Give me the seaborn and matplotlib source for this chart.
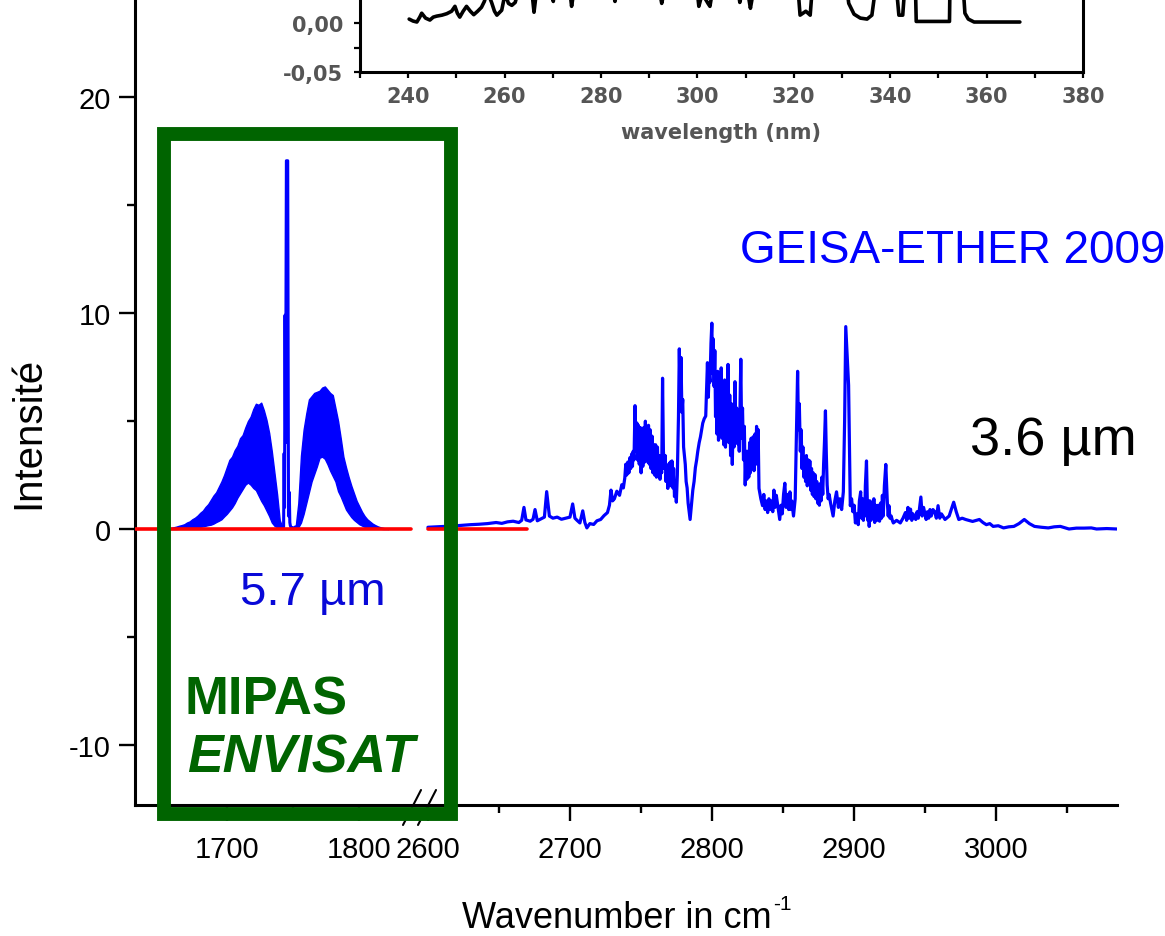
import matplotlib
matplotlib.use("Agg")
import matplotlib.pyplot as plt
from matplotlib.patches import Rectangle
from matplotlib.lines import Line2D
from matplotlib.ticker import FixedFormatter, FixedLocator
import seaborn as sns

# ---------------- 5.7 um band (MIPAS window) ----------------
# dense rotational structure of the two wings, given as lower / upper envelopes
lobe_p_wn = [1656, 1658, 1660, 1662, 1664, 1666, 1668, 1670, 1672, 1674,
             1676, 1678, 1680, 1682, 1684, 1686, 1688, 1690, 1692, 1694,
             1696, 1698, 1700, 1702, 1704, 1706, 1708, 1710, 1712, 1714,
             1716, 1718, 1720, 1722, 1724, 1726, 1728, 1730, 1732, 1734,
             1736, 1738, 1740, 1742]
lobe_p_hi = [0.03, 0.05, 0.08, 0.11, 0.15, 0.18, 0.22, 0.30, 0.35, 0.45,
             0.52, 0.62, 0.75, 0.85, 1.02, 1.15, 1.35, 1.55, 1.70, 1.95,
             2.20, 2.50, 2.85, 3.20, 3.35, 3.65, 3.85, 4.20, 4.35, 4.70,
             5.00, 5.20, 5.55, 5.80, 5.75, 5.85, 5.50, 5.05, 4.45, 3.60,
             2.60, 1.60, 0.40, 0.10]
lobe_p_lo = [0.00, 0.00, 0.00, 0.00, 0.01, 0.01, 0.02, 0.03, 0.04, 0.05,
             0.06, 0.08, 0.10, 0.12, 0.15, 0.18, 0.20, 0.25, 0.32, 0.38,
             0.45, 0.58, 0.70, 0.85, 1.00, 1.20, 1.45, 1.65, 1.85, 2.05,
             2.15, 2.05, 1.90, 1.80, 1.55, 1.30, 1.10, 0.85, 0.60, 0.30,
             0.15, 0.08, 0.04, 0.02]

lobe_r_wn = [1752, 1754, 1756, 1758, 1760, 1762, 1764, 1766, 1768, 1770,
             1772, 1774, 1776, 1778, 1780, 1782, 1784, 1786, 1788, 1790,
             1792, 1794, 1796, 1798, 1800, 1802, 1804, 1806, 1808, 1810,
             1812, 1814, 1816, 1818, 1820, 1822]
lobe_r_hi = [0.10, 1.20, 3.40, 4.60, 5.35, 6.00, 6.15, 6.30, 6.35, 6.40,
             6.55, 6.60, 6.45, 6.30, 6.20, 5.60, 5.00, 4.20, 3.35, 2.85,
             2.40, 2.00, 1.65, 1.30, 1.05, 0.80, 0.60, 0.45, 0.35, 0.25,
             0.18, 0.12, 0.08, 0.05, 0.02, 0.00]
lobe_r_lo = [0.02, 0.08, 0.30, 0.70, 1.20, 1.70, 2.20, 2.55, 2.90, 3.30,
             3.35, 3.25, 3.00, 2.70, 2.45, 2.20, 1.75, 1.50, 1.20, 0.90,
             0.72, 0.55, 0.42, 0.32, 0.22, 0.16, 0.10, 0.07, 0.05, 0.04,
             0.03, 0.02, 0.01, 0.00, 0.00, 0.00]

# Q-branch spike between the two wings
q_wn = [1742.0, 1742.9, 1743.3, 1743.6, 1744.0, 1744.4, 1745.0, 1746.0,
        1746.6, 1747.2, 1747.6, 1748.0, 1748.4, 1749.0, 1750.5, 1752.0]
q_int = [0.05, 0.10, 3.50, 1.00, 9.90, 4.00, 17.05, 17.05,
         0.60, 1.70, 0.30, 0.15, 0.10, 0.05, 0.05, 0.10]

# ---------------- 3.6 um band ----------------
band_wn = [
    2600, 2606, 2612, 2618, 2624, 2630, 2636, 2642, 2648, 2652,
    2656, 2660, 2664, 2666, 2667.6, 2669, 2672, 2674, 2675.4, 2677,
    2680, 2682, 2683.6, 2685.5, 2688, 2691, 2694, 2697, 2700, 2701.9,
    2703.5, 2705, 2707.0, 2709.0, 2710.5, 2711.9, 2714, 2716.7, 2719, 2721.6,
    2724, 2726.4, 2727.8, 2728.9, 2730, 2731.3, 2733, 2734.9, 2736.5, 2737.6,
    2738.6, 2739.3, 2740.0, 2740.7, 2741.5, 2742.2, 2742.8, 2743.4, 2744.0, 2744.5,
    2745.1, 2745.8, 2746.4, 2747.1, 2747.6, 2748.2, 2748.8, 2749.5, 2750.1, 2750.7,
    2751.3, 2752.0, 2752.6, 2753.1, 2753.7, 2754.2, 2754.8, 2755.3, 2755.9, 2756.5,
    2757.1, 2757.8, 2758.4, 2759.0, 2759.6, 2760.3, 2760.9, 2761.6, 2762.2, 2762.8,
    2763.4, 2764.0, 2764.6, 2765.2, 2765.8, 2766.5, 2767.1, 2767.6, 2768.3, 2768.9,
    2769.5, 2770.0, 2770.6, 2771.2, 2771.8, 2772.5, 2773.0, 2773.6, 2774.2, 2774.9,
    2775.6, 2776.4, 2777.0, 2777.6, 2778.2, 2778.8, 2779.4, 2780.0, 2780.6, 2781.2,
    2781.8, 2782.5, 2783.2, 2783.9, 2784.6, 2785.5, 2786.5, 2787.4, 2788.3, 2789.2,
    2790.0, 2791.0, 2791.9, 2792.7, 2793.5, 2794.5, 2795.6, 2796.2, 2796.8, 2797.4,
    2798.0, 2798.6, 2799.3, 2799.9, 2800.4, 2800.9, 2801.5, 2802.0, 2802.5, 2803.0,
    2803.5, 2804.0, 2804.6, 2805.2, 2805.8, 2806.5, 2807.1, 2807.7, 2808.3, 2808.9,
    2809.5, 2810.2, 2810.7, 2811.3, 2811.9, 2812.5, 2813.1, 2813.7, 2814.3, 2815.0,
    2815.6, 2816.2, 2816.8, 2817.4, 2818.0, 2818.6, 2819.2, 2819.8, 2820.3, 2820.9,
    2821.5, 2822.2, 2822.8, 2823.4, 2824.0, 2824.6, 2825.3, 2825.9, 2826.5, 2827.0,
    2827.6, 2828.3, 2829.0, 2829.6, 2830.3, 2830.9, 2831.4, 2831.9, 2832.5, 2833.1,
    2834.4, 2835.6, 2836.5, 2837.4, 2838.3, 2839.2, 2840.1, 2841.0, 2842.0, 2842.8,
    2843.6, 2844.4, 2845.3, 2846.5, 2847.7, 2848.6, 2849.5, 2850.4, 2851.3, 2852.2,
    2853.0, 2854.0, 2854.9, 2855.6, 2856.2, 2857.4, 2858.6, 2859.5, 2860.3, 2860.9,
    2861.5, 2862.2, 2862.8, 2863.4, 2864.0, 2864.7, 2865.3, 2865.9, 2866.5, 2867.1,
    2867.7, 2868.3, 2868.9, 2869.5, 2870.1, 2870.7, 2871.3, 2871.9, 2872.5, 2873.1,
    2873.8, 2874.4, 2875.0, 2875.6, 2876.2, 2876.8, 2877.4, 2878.0, 2878.6, 2879.2,
    2879.9, 2880.5, 2881.1, 2881.8, 2882.5, 2883.5, 2884.4, 2885.3, 2886.5, 2887.7,
    2889.0, 2890.1, 2891.3, 2892.5, 2893.4, 2894.2, 2895.2, 2896.2, 2897.4, 2898.3,
    2899.2, 2900.1, 2901.0, 2902.0, 2903.0, 2903.8, 2904.7, 2905.4, 2906.0, 2906.6,
    2907.1, 2907.6, 2908.0, 2908.8, 2909.4, 2909.8, 2910.3, 2910.7, 2911.4, 2912.0,
    2912.5, 2913.2, 2914.0, 2914.6, 2915.3, 2916.2, 2917.0, 2918.0, 2918.7, 2919.4,
    2920.0, 2920.6, 2921.4, 2922.4, 2923.5, 2924.1, 2924.6, 2925.3, 2926.2, 2927.0,
    2927.7, 2930.0, 2932.6, 2934.5, 2936.2, 2937.1, 2938.0, 2939.0, 2939.8, 2940.7,
    2941.6, 2943.5, 2944.4, 2945.3, 2946.2, 2947.1, 2948.0, 2949.0, 2950.8, 2951.7,
    2952.6, 2953.5, 2954.4, 2955.6, 2956.8, 2958.0, 2959.2, 2960.4, 2961.6, 2964.1,
    2967.0, 2970.2, 2972.0, 2973.8, 2976.2, 2978.6, 2983.5, 2988.3, 2990.8, 2993.2,
    2995.6, 2998.0, 3001.6, 3005.3, 3009.0, 3012.6, 3016.2, 3019.9, 3023.5, 3027.1,
    3032.0, 3036.8, 3041.0, 3045.3, 3048.4, 3051.4, 3056.6, 3062.0, 3067.1, 3070.8,
    3078.0, 3085.0]
band_int = [
    0.08, 0.10, 0.12, 0.14, 0.17, 0.20, 0.22, 0.25, 0.30, 0.26,
    0.33, 0.36, 0.30, 0.40, 1.00, 0.42, 0.36, 0.45, 0.90, 0.38,
    0.48, 0.55, 1.73, 0.60, 0.50, 0.55, 0.45, 0.50, 0.55, 1.16,
    0.50, 0.40, 0.28, 0.84, 0.30, 0.05, 0.25, 0.21, 0.38, 0.44,
    0.62, 0.76, 1.10, 1.80, 1.30, 1.40, 1.75, 1.56, 2.05, 1.90,
    2.36, 3.00, 2.50, 3.10, 2.60, 3.30, 2.80, 3.47, 2.90, 3.60,
    3.20, 5.71, 3.60, 4.91, 3.20, 4.80, 3.00, 4.70, 2.60, 4.60,
    2.90, 4.70, 3.10, 4.99, 3.20, 4.60, 3.10, 4.80, 3.00, 4.59,
    2.80, 4.30, 2.60, 3.90, 2.50, 3.90, 2.40, 3.79, 2.50, 3.40,
    2.30, 2.84, 2.60, 6.98, 3.60, 2.80, 3.40, 2.20, 2.90, 1.88,
    3.00, 2.10, 3.10, 2.00, 3.15, 1.90, 2.80, 1.50, 2.20, 1.24,
    2.50, 5.20, 8.34, 6.00, 7.94, 5.40, 6.00, 3.80, 3.40, 2.99,
    2.20, 1.90, 1.20, 0.80, 0.44, 1.10, 1.80, 2.20, 2.84, 3.20,
    3.60, 4.00, 4.27, 4.60, 4.90, 5.10, 5.23, 6.50, 7.70, 6.10,
    7.20, 6.80, 8.60, 9.53, 7.20, 8.80, 6.60, 8.26, 5.20, 7.10,
    4.40, 7.30, 4.11, 7.00, 4.80, 7.46, 4.20, 6.60, 3.90, 6.90,
    3.79, 6.40, 4.50, 7.62, 4.00, 6.20, 3.40, 5.80, 2.99, 5.40,
    3.80, 6.82, 4.00, 5.60, 3.95, 5.20, 3.60, 6.00, 7.86, 4.20,
    5.60, 3.20, 4.75, 2.04, 3.60, 2.30, 3.60, 2.40, 4.00, 2.60,
    4.20, 2.80, 4.27, 2.70, 4.40, 3.00, 4.75, 3.20, 4.60, 1.88,
    1.40, 1.08, 1.60, 0.90, 1.30, 0.76, 1.40, 0.90, 1.30, 0.80,
    1.80, 1.00, 1.56, 1.00, 0.44, 1.10, 0.70, 1.60, 2.12, 1.00,
    1.60, 0.90, 1.72, 0.90, 1.30, 0.60, 1.40, 4.50, 7.30, 4.60,
    5.80, 3.60, 4.59, 2.80, 3.80, 2.40, 3.15, 2.20, 3.40, 2.00,
    3.20, 2.10, 3.15, 1.80, 2.80, 1.60, 2.60, 1.50, 2.52, 1.40,
    2.20, 1.20, 1.88, 1.10, 2.10, 1.30, 2.40, 1.60, 2.99, 4.00,
    5.47, 3.50, 2.04, 1.40, 1.60, 1.20, 0.90, 0.60, 1.30, 1.72,
    1.00, 1.40, 0.90, 1.72, 5.00, 9.37, 8.00, 6.66, 1.08, 1.40,
    0.80, 1.10, 0.28, 0.70, 0.20, 1.30, 1.72, 0.50, 1.40, 0.40,
    1.24, 0.60, 2.00, 3.15, 1.20, 0.40, 1.30, 0.12, 1.30, 0.40,
    1.20, 0.50, 1.40, 0.30, 1.10, 0.40, 1.10, 0.36, 1.20, 0.50,
    1.56, 0.60, 2.00, 2.99, 1.20, 0.60, 1.08, 0.50, 0.60, 0.40,
    0.28, 0.40, 0.28, 0.50, 0.76, 0.40, 1.00, 0.50, 0.92, 0.40,
    0.70, 0.44, 0.80, 0.50, 1.00, 1.48, 0.60, 1.00, 0.44, 0.80,
    0.50, 0.90, 0.60, 0.90, 0.80, 0.50, 1.08, 0.50, 0.70, 0.44,
    0.60, 1.24, 0.80, 0.44, 0.50, 0.44, 0.35, 0.44, 0.30, 0.20,
    0.25, 0.12, 0.15, 0.05, 0.10, 0.12, 0.25, 0.44, 0.25, 0.12,
    0.08, 0.05, 0.10, 0.12, 0.06, 0.00, 0.04, 0.04, 0.05, 0.00,
    0.02, 0.00]

# zero reference line, one piece in each axis segment
zero_seg1_wn = [1630.8, 1839.0]
zero_seg2_wn = [2600.0, 2670.0]
zero_level = [0.0, 0.0]

# ---------------- UV absorption inset ----------------
uv_nm = [240.2, 241.0, 241.8, 242.4, 242.8, 243.6, 244.5, 245.2, 245.9, 247.0,
         248.0, 249.0, 249.7, 250.2, 250.7, 251.4, 252.1, 252.9, 253.6, 254.4,
         255.2, 255.8, 256.3, 256.9, 257.3, 257.9, 258.4, 259.0, 259.4, 260.1,
         260.8, 261.5, 262.2, 262.8, 264.0, 265.5, 266.1, 266.8, 268.5, 269.6,
         270.1, 270.6, 272.5, 273.6, 273.9, 274.3, 277.0, 281.0, 282.5, 282.9,
         283.4, 287.0, 291.5, 292.3, 292.6, 293.0, 296.5, 299.8, 300.3, 301.0,
         302.2, 302.6, 303.2, 306.5, 308.4, 308.8, 309.3, 310.5, 311.0, 311.6,
         315.0, 320.8, 321.3, 322.5, 323.4, 323.9, 327.5, 331.0, 331.4, 332.5,
         333.8, 335.2, 336.2, 336.8, 339.5, 341.4, 341.8, 342.6, 343.0, 345.2,
         345.4, 352.3, 352.4, 354.0, 355.1, 355.5, 356.2, 357.4, 366.9]
uv_abs = [0.0040, 0.0020, 0.0010, 0.0060, 0.0100, 0.0050, 0.0030, 0.0060, 0.0070, 0.0080,
          0.0095, 0.0120, 0.0170, 0.0100, 0.0060, 0.0120, 0.0170, 0.0120, 0.0085, 0.0120,
          0.0160, 0.0220, 0.0300, 0.0260, 0.0210, 0.0120, 0.0080, 0.0110, 0.0130, 0.0300,
          0.0200, 0.0180, 0.0210, 0.0320, 0.0450, 0.0400, 0.0110, 0.0400, 0.0500, 0.0350,
          0.0220, 0.0400, 0.0480, 0.0300, 0.0170, 0.0300, 0.0550, 0.0500, 0.0320, 0.0220,
          0.0350, 0.0600, 0.0450, 0.0280, 0.0200, 0.0300, 0.0550, 0.0400, 0.0170, 0.0300,
          0.0200, 0.0170, 0.0350, 0.0520, 0.0350, 0.0210, 0.0320, 0.0300, 0.0150, 0.0320,
          0.0500, 0.0400, 0.0080, 0.0120, 0.0080, 0.0400, 0.0550, 0.0350, 0.0200, 0.0090,
          0.0050, 0.0040, 0.0080, 0.0300, 0.0500, 0.0300, 0.0080, 0.0080, 0.0350, 0.0450,
          0.0016, 0.0016, 0.0400, 0.0500, 0.0400, 0.0100, 0.0040, 0.0010, 0.0010]
uv_yticks = [-0.05, 0.00]
uv_yticklabels = ["-0,05", "0,00"]

# ---------------- styling ----------------
sns.set_theme(style="ticks")
plt.rcParams.update({
    "font.family": ["Liberation Sans", "DejaVu Sans"],
    "axes.unicode_minus": False,
    "axes.edgecolor": "black",
    "xtick.color": "black",
    "ytick.color": "black",
})

W, H = 1165, 937
fig = plt.figure(figsize=(W / 100, H / 100), dpi=100)
fig.patch.set_facecolor("white")


def fx(px):
    return px / W


def fy(py):
    return 1 - py / H


BLUE = "#0000FF"
RED = "#FF0000"
GREEN = "#006400"

ax_h = 806 / H
ax1 = fig.add_axes([fx(135), fy(806), fx(420 - 135), ax_h])
ax2 = fig.add_axes([fx(420), fy(806), fx(1117 - 420), ax_h])

# left segment: 5.7 um band
ax1.fill_between(lobe_p_wn, lobe_p_lo, lobe_p_hi, color=BLUE, edgecolor=BLUE, lw=1.0)
ax1.fill_between(lobe_r_wn, lobe_r_lo, lobe_r_hi, color=BLUE, edgecolor=BLUE, lw=1.0)
sns.lineplot(x=q_wn, y=q_int, ax=ax1, color=BLUE, lw=2.2, sort=False, estimator=None)
sns.lineplot(x=zero_seg1_wn, y=zero_level, ax=ax1, color=RED, lw=2.6,
             sort=False, estimator=None, zorder=5)

# right segment: 3.6 um band
sns.lineplot(x=band_wn, y=band_int, ax=ax2, color=BLUE, lw=2.3, sort=False, estimator=None)
sns.lineplot(x=zero_seg2_wn, y=zero_level, ax=ax2, color=RED, lw=2.6,
             sort=False, estimator=None, zorder=5)

ylim = (-12.78, 24.54)
ax1.set_xlim(1630.8, 1845.8)
ax2.set_xlim(2594.4, 3085.2)
for ax in (ax1, ax2):
    ax.set_ylim(*ylim)
    ax.set_xlabel("")
    ax.set_ylabel("")
    ax.set_facecolor("white")
    ax.grid(False)
    for s in ("top", "right"):
        ax.spines[s].set_visible(False)
    for s in ax.spines.values():
        s.set_linewidth(2.2)
    ax.tick_params(which="major", direction="out", length=11.5, width=1.7,
                   labelsize=21, pad=6)
    ax.tick_params(which="minor", direction="out", length=5.5, width=1.7)
    ax.tick_params(axis="x", which="major", pad=10)

ax2.spines["left"].set_visible(False)
ax2.tick_params(which="both", left=False, labelleft=False)

ax1.xaxis.set_major_locator(FixedLocator([1700, 1800]))
ax1.xaxis.set_minor_locator(FixedLocator([1650, 1750]))
ax1.yaxis.set_major_locator(FixedLocator([-10, 0, 10, 20]))
ax1.yaxis.set_minor_locator(FixedLocator([-5, 5, 15]))
ax2.xaxis.set_major_locator(FixedLocator([2600, 2700, 2800, 2900, 3000]))
ax2.xaxis.set_minor_locator(FixedLocator([2650, 2750, 2850, 2950, 3050]))
ax2.yaxis.set_major_locator(FixedLocator([]))
ax2.yaxis.set_minor_locator(FixedLocator([]))

# axis break marks
for x0, x1 in ((403, 421), (418, 436)):
    fig.add_artist(Line2D([fx(x0), fx(x1)], [fy(826), fy(791)], color="black",
                          lw=1.5, transform=fig.transFigure, zorder=5))

# axis titles
fig.text(fx(28), fy(433), "Intensité", rotation=90, ha="center", va="center",
         fontsize=29, color="black")
xlab = fig.text(fx(462), fy(928), "Wavenumber in cm", ha="left", va="baseline",
                fontsize=26, color="black")
renderer = fig.canvas.get_renderer()
bb = xlab.get_window_extent(renderer=renderer)
fig.text(fx(bb.x1 + 2), fy(910), "-1", ha="left", va="baseline",
         fontsize=15, color="black")

# annotations
fig.text(fx(740), fy(263), "GEISA-ETHER 2009", color=BLUE, fontsize=33,
         ha="left", va="baseline")
fig.text(fx(970), fy(455), "3.6 µm", color="black", fontsize=39,
         ha="left", va="baseline")
fig.text(fx(240), fy(605), "5.7 µm", color="#0808D8", fontsize=34,
         ha="left", va="baseline")
fig.text(fx(185), fy(715), "MIPAS", color=GREEN, fontsize=38, fontweight="bold",
         ha="left", va="baseline")
fig.text(fx(187), fy(773), "ENVISAT", color=GREEN, fontsize=38.5, fontweight="bold",
         fontstyle="italic", ha="left", va="baseline")

# instrument window frame
fig.add_artist(Rectangle((fx(164), fy(815)), fx(451 - 164), (815 - 135) / H,
                         transform=fig.transFigure, fill=False, edgecolor=GREEN,
                         lw=10, joinstyle="miter", zorder=20))

# ---------------- inset: UV absorption ----------------
axin = fig.add_axes([fx(360), fy(73), fx(1083 - 360), 147 / H])
axin.set_facecolor("white")
sns.lineplot(x=uv_nm, y=uv_abs, ax=axin, color="black", lw=2.6, sort=False, estimator=None)
axin.set_xlim(230, 380)
axin.set_ylim(-0.05, 0.10)
axin.set_xlabel("")
axin.set_ylabel("")
axin.grid(False)
axin.spines["top"].set_visible(False)
for s in axin.spines.values():
    s.set_linewidth(2.2)
axin.xaxis.set_major_locator(FixedLocator(list(range(240, 381, 20))))
axin.xaxis.set_minor_locator(FixedLocator(list(range(230, 381, 20))))
axin.yaxis.set_major_locator(FixedLocator(uv_yticks))
axin.yaxis.set_major_formatter(FixedFormatter(uv_yticklabels))
axin.yaxis.set_minor_locator(FixedLocator([-0.025]))
axin.tick_params(which="both", direction="out", length=4, width=1.6, pad=6,
                 labelcolor="#555555")
axin.tick_params(axis="y", pad=8)
for lab in axin.get_xticklabels() + axin.get_yticklabels():
    lab.set_fontfamily("DejaVu Sans")
    lab.set_fontweight("bold")
    lab.set_fontsize(15)
fig.text(fx(721), fy(139), "wavelength (nm)", ha="center", va="baseline",
         color="#555555", family="DejaVu Sans", fontweight="bold", fontsize=15)

fig.savefig("out.png", dpi=100, facecolor="white")
